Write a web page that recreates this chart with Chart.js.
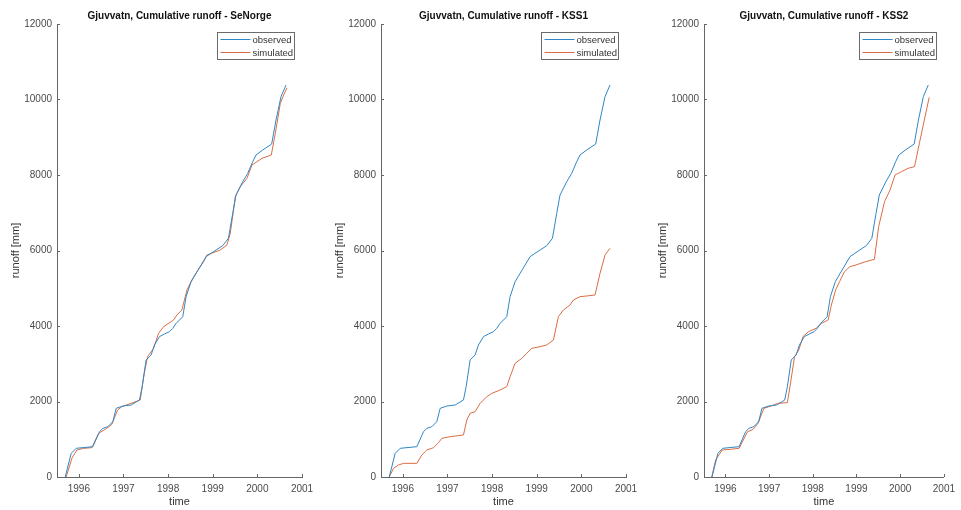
<!DOCTYPE html>
<html>
<head>
<meta charset="utf-8">
<script src="https://cdn.jsdelivr.net/npm/chart.js@4/dist/chart.umd.min.js"></script>
<style>
  html, body { margin: 0; padding: 0; background: #ffffff; overflow: hidden; }
  body { width: 961px; height: 510px; position: relative; }
  .panel { position: absolute; top: 0; height: 510px; }
</style>
</head>
<body>
<div class="panel" id="p0" style="left:0px;width:320px"><canvas id="c0"></canvas></div>
<div class="panel" id="p1" style="left:324px;width:320px"><canvas id="c1"></canvas></div>
<div class="panel" id="p2" style="left:647px;width:314px"><canvas id="c2"></canvas></div>
<script>
// Cumulative runoff at Gjuvvatn, hydrological years 1995/96 - 1999/2000 (decimal years, mm)
const obsYears = [1995.694, 1995.828, 1995.940, 1996.313, 1996.463, 1996.537, 1996.649, 1996.761, 1996.836, 1996.985,
  1997.172, 1997.358, 1997.418, 1997.507, 1997.619, 1997.694, 1997.806, 1997.918, 1998.030, 1998.104,
  1998.179, 1998.328, 1998.403, 1998.515, 1998.627, 1998.739, 1998.851, 1998.963, 1999.075, 1999.224,
  1999.351, 1999.448, 1999.522, 1999.672, 1999.784, 1999.896, 1999.970, 2000.119, 2000.321, 2000.418,
  2000.530, 2000.642];
const obsRunoff = [0, 627, 760, 803, 1200, 1289, 1333, 1466, 1819, 1880,
  1907, 2040, 2393, 3100, 3232, 3497, 3718, 3788, 3850, 3938,
  4070, 4247, 4777, 5174, 5395, 5616, 5837, 5925, 6013, 6128,
  6322, 6985, 7470, 7823, 8044, 8353, 8530, 8662, 8821, 9457,
  10075, 10384];

const seNorgeYears = [1995.716, 1995.843, 1995.955, 1996.105, 1996.291, 1996.441, 1996.628, 1996.740, 1996.867, 1996.964,
  1997.375, 1997.465, 1997.540, 1997.674, 1997.786, 1997.898, 1998.123, 1998.197, 1998.309, 1998.422,
  1998.534, 1998.646, 1998.795, 1998.870, 1999.169, 1999.318, 1999.393, 1999.505, 1999.617, 1999.767,
  1999.879, 1999.991, 2000.103, 2000.312, 2000.402, 2000.514, 2000.589, 2000.664];
const seNorgeRunoff = [0, 494, 715, 759, 777, 1157, 1289, 1395, 1775, 1863,
  2040, 2746, 3188, 3408, 3806, 3982, 4159, 4291, 4424, 4954,
  5219, 5439, 5704, 5881, 6013, 6146, 6455, 7426, 7691, 7912,
  8265, 8353, 8442, 8530, 9104, 9898, 10119, 10310];

const kss1Years = [1995.694, 1995.791, 1995.903, 1996.015, 1996.313, 1996.425, 1996.537, 1996.687, 1996.799, 1996.873,
  1997.060, 1997.358, 1997.433, 1997.507, 1997.619, 1997.731, 1997.881, 1997.993, 1998.179, 1998.328,
  1998.403, 1998.515, 1998.664, 1998.776, 1998.888, 1999.075, 1999.224, 1999.373, 1999.485, 1999.597,
  1999.746, 1999.821, 1999.970, 2000.119, 2000.306, 2000.418, 2000.530, 2000.642];
const kss1Runoff = [0, 230, 318, 362, 362, 583, 715, 777, 909, 1024,
  1068, 1113, 1510, 1687, 1731, 1951, 2128, 2216, 2305, 2393,
  2658, 3011, 3143, 3276, 3408, 3453, 3497, 3629, 4247, 4424,
  4556, 4689, 4777, 4795, 4821, 5395, 5881, 6058];

const kss2Years = [1995.687, 1995.776, 1995.851, 1995.925, 1996.112, 1996.313, 1996.410, 1996.507, 1996.634, 1996.746,
  1996.881, 1997.045, 1997.194, 1997.418, 1997.478, 1997.582, 1997.679, 1997.776, 1997.903, 1998.075,
  1998.201, 1998.351, 1998.425, 1998.522, 1998.612, 1998.724, 1998.851, 1998.985, 1999.209, 1999.410,
  1999.507, 1999.642, 1999.769, 1999.881, 2000.030, 2000.179, 2000.328, 2000.440, 2000.552, 2000.664];
const kss2Runoff = [0, 450, 583, 715, 733, 760, 980, 1200, 1263, 1422,
  1819, 1880, 1951, 1969, 2393, 3188, 3364, 3718, 3850, 3938,
  4070, 4159, 4556, 4954, 5174, 5439, 5572, 5616, 5704, 5766,
  6631, 7293, 7603, 8000, 8088, 8177, 8221, 8839, 9457, 10057];

const panelTitles = ['Gjuvvatn, Cumulative runoff - SeNorge',
                     'Gjuvvatn, Cumulative runoff - KSS1',
                     'Gjuvvatn, Cumulative runoff - KSS2'];
const simulatedYears = [seNorgeYears, kss1Years, kss2Years];
const simulatedRunoff = [seNorgeRunoff, kss1Runoff, kss2Runoff];
const seriesLabels = ['observed', 'simulated'];
const xTickYears = [1996, 1997, 1998, 1999, 2000, 2001];
const yTickValues = [0, 2000, 4000, 6000, 8000, 10000, 12000];
const xLimits = [1995.51, 2001];
const yLimits = [0, 12000];

const FONT = '"Liberation Sans", Arial, Helvetica, sans-serif';
const AXIS_COLOR = '#666666';
const TICK_TEXT = '#4a4a4a';
const TEXT_COLOR = '#333333';
const LINE_COLORS = ['#2f86c6', '#da6d43'];

function toPoints(xs, ys) {
  return xs.map((x, i) => ({ x: x, y: ys[i] }));
}

// Inward-pointing tick marks along the left and bottom axes
const insideTicks = {
  id: 'insideTicks',
  afterDatasetsDraw(chart) {
    const { ctx, chartArea, scales } = chart;
    const len = 3;
    ctx.save();
    ctx.strokeStyle = AXIS_COLOR;
    ctx.lineWidth = 1;
    ctx.beginPath();
    scales.x.ticks.forEach(t => {
      const px = Math.round(scales.x.getPixelForValue(t.value)) + 0.5;
      ctx.moveTo(px, chartArea.bottom);
      ctx.lineTo(px, chartArea.bottom - len);
    });
    scales.y.ticks.forEach(t => {
      const py = Math.round(scales.y.getPixelForValue(t.value)) + 0.5;
      ctx.moveTo(chartArea.left, py);
      ctx.lineTo(chartArea.left + len, py);
    });
    ctx.stroke();
    ctx.restore();
  }
};

// Boxed legend in the upper right corner of the axes
const boxLegend = {
  id: 'boxLegend',
  afterDraw(chart) {
    const { ctx, chartArea } = chart;
    const w = 77, h = 27, inset = 8;
    const left = Math.round(chartArea.right - inset - w) + 0.5;
    const top = Math.round(chartArea.top + inset) + 0.5;
    ctx.save();
    ctx.fillStyle = '#ffffff';
    ctx.fillRect(left, top, w, h);
    ctx.strokeStyle = '#6a6a6a';
    ctx.lineWidth = 1;
    ctx.strokeRect(left, top, w, h);
    ctx.font = '9.5px ' + FONT;
    ctx.textBaseline = 'middle';
    ctx.textAlign = 'left';
    chart.data.datasets.forEach((ds, i) => {
      const y = top + 7 + i * 13;
      ctx.strokeStyle = ds.borderColor;
      ctx.beginPath();
      ctx.moveTo(left + 3, y);
      ctx.lineTo(left + 33, y);
      ctx.stroke();
      ctx.fillStyle = TEXT_COLOR;
      ctx.fillText(ds.label, left + 35, y + 0.5);
    });
    ctx.restore();
  }
};

function makeChart(idx, rightPad) {
  const ctx = document.getElementById('c' + idx);
  return new Chart(ctx, {
    type: 'line',
    data: {
      datasets: [
        {
          label: seriesLabels[0],
          data: toPoints(obsYears, obsRunoff),
          borderColor: LINE_COLORS[0],
          borderWidth: 1,
          pointRadius: 0,
          tension: 0,
          fill: false
        },
        {
          label: seriesLabels[1],
          data: toPoints(simulatedYears[idx], simulatedRunoff[idx]),
          borderColor: LINE_COLORS[1],
          borderWidth: 1,
          pointRadius: 0,
          tension: 0,
          fill: false
        }
      ]
    },
    options: {
      responsive: true,
      maintainAspectRatio: false,
      animation: false,
      layout: { padding: { left: 0, right: rightPad, top: 0, bottom: 0 } },
      plugins: {
        legend: { display: false },
        tooltip: { enabled: false },
        title: {
          display: true,
          text: panelTitles[idx],
          fullSize: false,
          color: '#111111',
          font: { family: FONT, size: 10, weight: 'bold', lineHeight: 1.2 },
          padding: { top: 10, bottom: 2 }
        }
      },
      scales: {
        x: {
          type: 'linear',
          min: xLimits[0],
          max: xLimits[1],
          afterBuildTicks: s => { s.ticks = xTickYears.map(v => ({ value: v })); },
          afterFit: s => { s.height = 33; },
          grid: { display: true, drawOnChartArea: false, drawTicks: false },
          border: { display: true, color: AXIS_COLOR, width: 1 },
          ticks: {
            color: TICK_TEXT,
            font: { family: FONT, size: 10 },
            padding: 6,
            maxRotation: 0,
            autoSkip: false,
            callback: v => String(v)
          },
          title: {
            display: true,
            text: 'time',
            color: TEXT_COLOR,
            font: { family: FONT, size: 11, lineHeight: 1.2 },
            padding: { top: 0, bottom: 1 }
          }
        },
        y: {
          type: 'linear',
          min: yLimits[0],
          max: yLimits[1],
          afterBuildTicks: s => { s.ticks = yTickValues.map(v => ({ value: v })); },
          afterFit: s => { s.width = 57; },
          grid: { display: true, drawOnChartArea: false, drawTicks: false },
          border: { display: true, color: AXIS_COLOR, width: 1 },
          ticks: {
            color: TICK_TEXT,
            font: { family: FONT, size: 10 },
            padding: 5,
            autoSkip: false,
            callback: v => String(v)
          },
          title: {
            display: true,
            text: 'runoff [mm]',
            color: TEXT_COLOR,
            font: { family: FONT, size: 11, lineHeight: 1.2 },
            padding: { top: 9, bottom: 0 }
          }
        }
      }
    },
    plugins: [insideTicks, boxLegend]
  });
}

makeChart(0, 18);
makeChart(1, 18);
makeChart(2, 11);
</script>
</body>
</html>
